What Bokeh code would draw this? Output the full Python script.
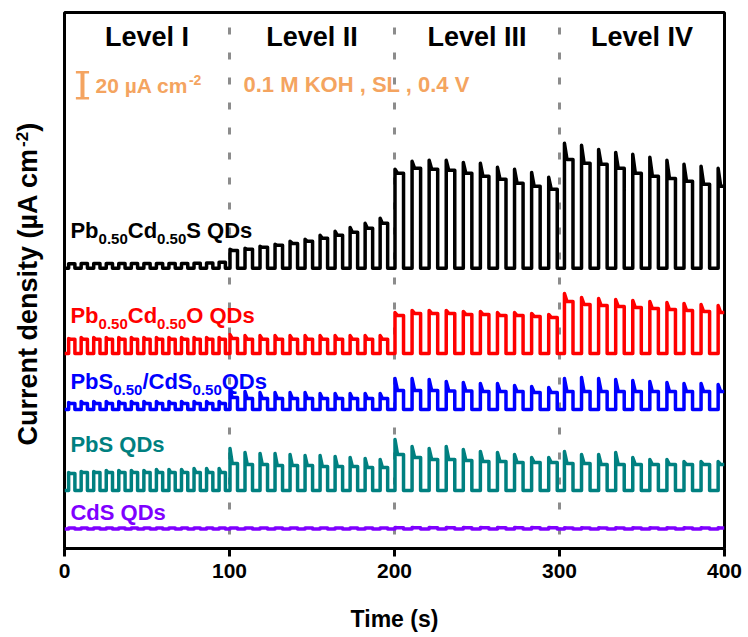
import math
from bokeh.plotting import figure
from bokeh.layouts import row
from bokeh.models import Range1d, FixedTicker, Span, Label
from bokeh.embed import file_html
from bokeh.resources import INLINE

# ---------------- data ----------------
levels = ["Level I", "Level II", "Level III", "Level IV"]
level_center = [50, 150, 250, 350]
level_bounds = [100, 200, 300]
pulses_per_level = [13, 11, 10, 10]
first_on = [2.5, 100.3, 200.3, 303.0]          # s, light-on time of first pulse in each level
chop_period = [7.6, 9.1, 10.35, 10.35]         # s
x_ticks = [0, 100, 200, 300, 400]

# stacked dark-current baselines (µA cm^-2, offset for display)
black_base = 215.5
red_base = 150.0
blue_base = 106.9
teal_base = 44.6
purple_base = 15.0

# photocurrent per light pulse (µA cm^-2): initial spike and steady plateau
black_spike = [3.5, 3.8, 3.8, 3.8, 3.8, 3.8, 3.8, 3.8, 3.8, 3.8, 4.0, 4.2, 4.6,
               14.6, 15.4, 16.9, 18.5, 20.8, 22.3, 25.4, 28.5, 31.5, 34.6, 38.5,
               76.2, 82.3, 83.1, 83.1, 81.5, 80.8, 77.7, 76.2, 73.8, 70.0,
               96.2, 94.6, 91.5, 89.2, 87.7, 85.4, 83.1, 80.0, 78.5, 76.9]
black_plateau = [3.5, 3.8, 3.8, 3.8, 3.8, 3.8, 3.8, 3.8, 3.8, 3.8, 4.0, 4.2, 4.6,
                 13.8, 14.6, 16.2, 17.7, 19.2, 20.8, 23.1, 25.4, 27.7, 30.8, 34.6,
                 73.1, 76.9, 76.2, 75.4, 73.1, 70.8, 68.5, 65.4, 63.1, 60.8,
                 83.8, 80.8, 80.0, 76.9, 73.1, 70.8, 69.2, 66.9, 64.6, 63.1]

red_spike = [11.5, 12.3, 12.3, 12.3, 12.3, 12.3, 12.3, 12.3, 12.3, 12.3, 12.3, 12.3, 12.3,
             14.6, 13.8, 13.8, 13.8, 13.8, 13.8, 13.8, 13.8, 13.8, 13.8, 13.8,
             31.5, 33.1, 33.1, 33.1, 32.3, 32.3, 31.5, 31.5, 30.8, 30.0,
             46.2, 43.1, 42.3, 41.5, 40.8, 40.0, 39.2, 38.5, 37.7, 36.9]
red_plateau = [11.0, 11.0, 11.0, 11.0, 11.0, 11.0, 11.0, 11.0, 11.0, 11.0, 11.0, 11.0, 11.0,
               11.5, 11.0, 11.0, 11.0, 11.0, 11.0, 11.0, 11.0, 11.0, 11.0, 11.0,
               29.2, 30.8, 30.8, 30.8, 30.0, 30.0, 29.2, 29.2, 28.5, 27.7,
               40.0, 37.7, 36.9, 36.2, 35.4, 34.6, 33.8, 33.1, 32.3, 31.5]

blue_spike = [5.4, 6.2, 6.2, 6.2, 6.2, 6.2, 6.2, 6.2, 6.2, 6.2, 6.2, 6.2, 6.2,
              14.6, 13.8, 13.1, 13.1, 13.1, 13.1, 12.3, 12.3, 12.3, 12.3, 12.3,
              23.8, 23.8, 23.1, 21.5, 20.8, 20.0, 20.0, 18.5, 17.7, 16.9,
              23.8, 24.6, 23.8, 23.1, 22.3, 21.5, 20.8, 20.0, 20.0, 19.2]
blue_plateau = [4.6, 4.6, 4.6, 4.6, 4.6, 4.6, 4.6, 4.6, 4.6, 4.6, 4.6, 4.6, 4.6,
                9.2, 8.5, 8.5, 8.5, 8.5, 8.5, 8.5, 8.5, 8.5, 8.5, 8.5,
                14.6, 14.6, 14.6, 14.2, 14.2, 13.8, 13.8, 13.8, 13.1, 13.1,
                13.8, 13.8, 13.8, 13.8, 13.8, 13.8, 13.8, 13.8, 13.8, 13.8]

teal_spike = [13.8, 14.6, 14.6, 15.4, 15.4, 15.4, 15.4, 16.2, 16.2, 16.2, 16.9, 16.9, 16.9,
              32.3, 29.2, 28.5, 28.5, 27.7, 26.9, 26.9, 26.2, 25.4, 24.6, 23.8,
              39.2, 33.8, 32.3, 33.8, 31.5, 30.0, 29.2, 27.7, 25.4, 25.4,
              30.0, 27.7, 27.7, 29.2, 25.4, 23.8, 23.8, 22.3, 22.3, 22.3]
teal_plateau = [13.1, 13.8, 13.8, 13.8, 13.8, 13.8, 13.8, 13.8, 13.8, 13.8, 13.8, 13.8, 13.8,
                20.8, 20.0, 20.0, 19.2, 19.2, 19.2, 18.5, 18.5, 18.5, 17.7, 17.7,
                27.7, 25.4, 23.8, 23.8, 23.1, 22.3, 22.3, 21.5, 21.5, 21.5,
                20.8, 20.8, 20.0, 20.0, 20.0, 20.0, 20.0, 20.0, 20.0, 20.0]

purple_spike = [0.8, 0.8, 0.8, 0.8, 0.8, 0.8, 0.8, 0.8, 0.8, 0.8, 0.8, 0.8, 0.8,
                0.8, 0.8, 0.8, 0.8, 0.8, 0.8, 0.8, 0.8, 0.8, 0.8, 0.8,
                1.2, 1.2, 1.2, 1.2, 1.2, 1.2, 1.2, 1.2, 1.2, 1.2,
                1.0, 1.0, 1.0, 1.0, 1.0, 1.0, 1.0, 1.0, 1.0, 1.0]
purple_plateau = [0.8, 0.8, 0.8, 0.8, 0.8, 0.8, 0.8, 0.8, 0.8, 0.8, 0.8, 0.8, 0.8,
                  0.8, 0.8, 0.8, 0.8, 0.8, 0.8, 0.8, 0.8, 0.8, 0.8, 0.8,
                  1.0, 1.0, 1.0, 1.0, 1.0, 1.0, 1.0, 1.0, 1.0, 1.0,
                  0.8, 0.8, 0.8, 0.8, 0.8, 0.8, 0.8, 0.8, 0.8, 0.8]

scale_bar_value = 20.0   # µA cm^-2

# ---------------- helpers ----------------
T_END = 400.0


def trace(base, spike, plateau):
    t, y = [0.0], [base]
    k = 0
    for L in range(len(pulses_per_level)):
        for i in range(pulses_per_level[L]):
            on = first_on[L] + i * chop_period[L]
            off = on + 0.5 * chop_period[L]
            dec = on + 0.3 * (off - on)
            pts = [(on, base), (on, base + spike[k]), (dec, base + plateau[k]),
                   (off, base + plateau[k]), (off, base)]
            k += 1
            for tt, yy in pts:
                if tt > T_END:
                    t.append(T_END)
                    y.append(y[-1])
                    return t, y
                t.append(tt)
                y.append(yy)
    t.append(T_END)
    y.append(base)
    return t, y


W = {' ': 278, '(': 333, ')': 333, ',': 278, '-': 333, '.': 278, '/': 278,
     '0': 556, '1': 556, '2': 556, '4': 556, '5': 556,
     'A': 722, 'C': 722, 'D': 722, 'H': 722, 'K': 722, 'L': 611, 'M': 833,
     'O': 778, 'P': 667, 'Q': 778, 'S': 667, 'V': 667, 'I': 278,
     'b': 611, 'c': 556, 'd': 611, 'e': 556, 'i': 278, 'm': 889, 'n': 611,
     'r': 389, 's': 556, 't': 333, 'u': 611, 'y': 556, 'l': 278, 'v': 556, 'µ': 611}


def text_width(s, size):
    return sum(W.get(ch, 600) for ch in s) * size / 1000.0


FONT = "Liberation Sans"
BASE_FIX = 0.33   # em; lifts Bokeh's label so that the glyph baseline sits at the anchor


def rich(fig, x, y, pieces, size, small, color, angle=0.0, sub_shift=6, sup_shift=8,
         align="left"):
    total = sum(text_width(t, size if k == "n" else small) for t, k in pieces)
    adv = 0.0 if align == "left" else -total / 2.0
    for text, kind in pieces:
        fs = size if kind == "n" else small
        shift = 0 if kind == "n" else (-sub_shift if kind == "sub" else sup_shift)
        shift += BASE_FIX * fs
        if angle == 0.0:
            xo, yo = adv, shift
        else:
            xo, yo = -shift, adv
        fig.add_layout(Label(x=x, y=y, text=text, x_offset=xo, y_offset=yo, angle=angle,
                             text_font=FONT, text_font_style="bold",
                             text_font_size=f"{fs}px", text_color=color,
                             text_align="left", text_baseline="alphabetic"))
        adv += text_width(text, fs)


# ---------------- main figure ----------------
p = figure(width=698, height=637, x_range=Range1d(0, 400), y_range=Range1d(0, 412.3),
           output_backend="svg", toolbar_location=None,
           min_border_left=14, min_border_right=24, min_border_top=12, min_border_bottom=89)
p.grid.visible = False
p.yaxis.visible = False
p.outline_line_color = "black"
p.outline_line_width = 3
p.background_fill_color = "white"
p.border_fill_color = "white"

ax = p.xaxis[0]
ax.ticker = FixedTicker(ticks=x_ticks, minor_ticks=[])
ax.axis_line_width = 3
ax.axis_line_color = "black"
ax.major_tick_line_width = 3
ax.major_tick_out = 8
ax.major_tick_in = 0
ax.minor_tick_out = 0
ax.minor_tick_in = 0
ax.major_label_standoff = 7
ax.major_label_text_font = FONT
ax.major_label_text_font_style = "bold"
ax.major_label_text_font_size = "21px"
ax.major_label_text_color = "black"
ax.axis_label = "Time (s)"
ax.axis_label_text_font = FONT
ax.axis_label_text_font_style = "bold"
ax.axis_label_text_font_size = "23px"
ax.axis_label_text_color = "black"
ax.axis_label_standoff = 25

for b in level_bounds:
    p.add_layout(Span(location=b, dimension="height", line_color="#8c8c8c", line_width=3,
                      line_dash="7 18", line_dash_offset=10, level="underlay"))

series = [
    (black_base, black_spike, black_plateau, "black"),
    (red_base, red_spike, red_plateau, "#ff0000"),
    (blue_base, blue_spike, blue_plateau, "#0000ff"),
    (teal_base, teal_spike, teal_plateau, "#008080"),
    (purple_base, purple_spike, purple_plateau, "#7f00ff"),
]
for base, sp, pl, col in series:
    t, y = trace(base, sp, pl)
    p.line(t, y, line_color=col, line_width=3.5, line_join="round")

# level labels
for name, c in zip(levels, level_center):
    rich(p, c, 386.5, [(name, "n")], 27, 27, "black", align="center")

# scale bar
ORANGE = "#f4a460"
sb_x, sb_y0 = 10.9, 346.4
p.segment(x0=[sb_x], y0=[sb_y0], x1=[sb_x], y1=[sb_y0 + scale_bar_value],
          line_color=ORANGE, line_width=4)
p.segment(x0=[sb_x - 4.0, sb_x - 4.0], y0=[sb_y0, sb_y0 + scale_bar_value],
          x1=[sb_x + 4.0, sb_x + 4.0], y1=[sb_y0, sb_y0 + scale_bar_value],
          line_color=ORANGE, line_width=2.5)
rich(p, 18.8, 351.0, [("20 µA cm", "n"), ("-2", "sup")], 21, 14, ORANGE)
rich(p, 108.5, 351.0, [("0.1 M KOH , SL , 0.4 V", "n")], 22, 22, ORANGE)

# series labels
rich(p, 3.6, 239.2, [("Pb", "n"), ("0.50", "sub"), ("Cd", "n"), ("0.50", "sub"), ("S QDs", "n")], 22, 15, "black")
rich(p, 3.6, 173.6, [("Pb", "n"), ("0.50", "sub"), ("Cd", "n"), ("0.50", "sub"), ("O QDs", "n")], 22, 15, "#ff0000")
rich(p, 3.6, 122.8, [("PbS", "n"), ("0.50", "sub"), ("/CdS", "n"), ("0.50", "sub"), (" QDs", "n")], 22, 15, "#0000ff")
rich(p, 3.6, 74.1, [("PbS QDs", "n")], 22, 15, "#008080")
rich(p, 3.6, 22.3, [("CdS QDs", "n")], 22, 15, "#7f00ff")

# ---------------- y-axis title panel (data units = 637 - screen px) ----------------
yl = figure(width=50, height=637, x_range=Range1d(0, 50), y_range=Range1d(89, 625),
            output_backend="svg", toolbar_location=None,
            min_border_left=0, min_border_right=0, min_border_top=12, min_border_bottom=89)
yl.axis.visible = False
yl.grid.visible = False
yl.outline_line_color = None
yl.background_fill_color = "white"
yl.border_fill_color = "white"
rich(yl, 36, 192, [("Current density (µA cm", "n"), ("-2", "sup"), (")", "n")], 27, 17,
     "black", angle=math.pi / 2, sup_shift=9)

layout = row(yl, p, spacing=0)
open("out.html", "w").write(file_html(layout, INLINE))
